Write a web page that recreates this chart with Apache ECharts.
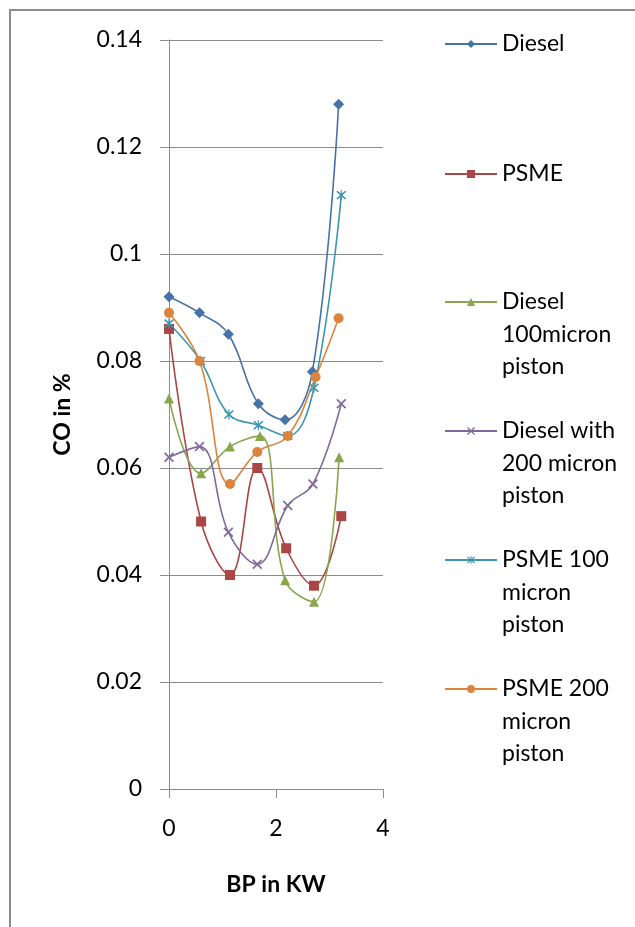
<!DOCTYPE html>
<html>
<head>
<meta charset="utf-8">
<script src="https://cdn.jsdelivr.net/npm/echarts@6/dist/echarts.min.js"></script>
<style>
html,body{margin:0;padding:0;background:#fff;}
#chart{width:635px;height:927px;}
</style>
</head>
<body>
<div id="chart"></div>
<script>
// ---- data ----
var seriesNames = ['Diesel', 'PSME', 'Diesel 100micron piston', 'Diesel with 200 micron piston', 'PSME 100 micron piston', 'PSME 200 micron piston'];
var legendLabels = ['Diesel', 'PSME', 'Diesel\n100micron\npiston', 'Diesel with\n200 micron\npiston', 'PSME 100\nmicron\npiston', 'PSME 200\nmicron\npiston'];

var dieselBP = [0, 0.57, 1.11, 1.67, 2.17, 2.68, 3.17];
var dieselCO = [0.092, 0.089, 0.085, 0.072, 0.069, 0.078, 0.128];

var psmeBP = [0, 0.60, 1.14, 1.65, 2.19, 2.71, 3.22];
var psmeCO = [0.086, 0.050, 0.040, 0.060, 0.045, 0.038, 0.051];

var diesel100BP = [0, 0.60, 1.14, 1.70, 2.17, 2.71, 3.18];
var diesel100CO = [0.073, 0.059, 0.064, 0.066, 0.039, 0.035, 0.062];

var diesel200BP = [0, 0.57, 1.11, 1.65, 2.22, 2.69, 3.22];
var diesel200CO = [0.062, 0.064, 0.048, 0.042, 0.053, 0.057, 0.072];

var psme100BP = [0, 0.59, 1.12, 1.67, 2.22, 2.71, 3.22];
var psme100CO = [0.087, 0.080, 0.070, 0.068, 0.066, 0.075, 0.111];

var psme200BP = [0, 0.57, 1.14, 1.65, 2.22, 2.74, 3.17];
var psme200CO = [0.089, 0.080, 0.057, 0.063, 0.066, 0.077, 0.088];

var xTicks = {min: 0, max: 4, interval: 2};
var yTicks = {min: 0, max: 0.14, interval: 0.02};

// ---- styling ----
var colors = ['#4572A7', '#AA4643', '#89A54E', '#80699B', '#3D96AE', '#DB843D'];
var xPath = 'path://M0,1.2 L1.2,0 L5,3.8 L8.8,0 L10,1.2 L6.2,5 L10,8.8 L8.8,10 L5,6.2 L1.2,10 L0,8.8 L3.8,5 Z';
var starPath = 'path://M0,1.2 L1.2,0 L5,3.8 L8.8,0 L10,1.2 L6.2,5 L10,8.8 L8.8,10 L5,6.2 L1.2,10 L0,8.8 L3.8,5 Z M4.4,-0.6 L5.6,-0.6 L5.6,10.6 L4.4,10.6 Z';
var symbols = ['diamond', 'rect', 'triangle', xPath, starPath, 'circle'];
var symbolSizes = [11, 10, 10, 10, 10, 10];
var FONT = 'Lato';
var LH = 32.5;

function zip(a, b) { return a.map(function (v, i) { return [v, b[i]]; }); }
var allData = [
  zip(dieselBP, dieselCO), zip(psmeBP, psmeCO), zip(diesel100BP, diesel100CO),
  zip(diesel200BP, diesel200CO), zip(psme100BP, psme100CO), zip(psme200BP, psme200CO)
];

// icon centre (px) of each legend entry, aligned with the first text line
var legendCentres = [44, 174, 302, 431, 560, 689];
var legends = seriesNames.map(function (name, i) {
  var lines = legendLabels[i].split('\n');
  // pad with blank lines above so the first text line sits at the icon
  var text = lines.length > 1 ? new Array(lines.length).join('\n') + legendLabels[i] : legendLabels[i];
  var totalLines = lines.length > 1 ? 2 * lines.length - 1 : 1;
  return {
    orient: 'vertical', left: 444, top: legendCentres[i] - totalLines * LH / 2, padding: 0,
    itemWidth: 52, itemHeight: 10,
    data: [name],
    selectedMode: false,
    formatter: function () { return text; },
    textStyle: {fontFamily: FONT, fontSize: 23, color: '#000', lineHeight: LH}
  };
});

var series = seriesNames.map(function (name, i) {
  return {
    name: name, type: 'line', data: allData[i], smooth: 0.4,
    symbol: symbols[i], symbolSize: symbolSizes[i], showSymbol: true,
    itemStyle: {color: colors[i]},
    lineStyle: {color: colors[i], width: 1.6},
    emphasis: {disabled: true}, animation: false
  };
});

var chart = echarts.init(document.getElementById('chart'), null, {renderer: 'canvas'});
chart.setOption({
  animation: false,
  backgroundColor: '#fff',
  graphic: [{
    type: 'rect', shape: {x: 10, y: 10, width: 800, height: 1000},
    style: {fill: 'none', stroke: '#8c8c8c', lineWidth: 2}, silent: true, z: -1
  }],
  legend: legends,
  grid: {left: 169, right: 252, top: 40, bottom: 138, containLabel: false},
  xAxis: {
    type: 'value', min: xTicks.min, max: xTicks.max, interval: xTicks.interval,
    name: 'BP in KW', nameLocation: 'middle', nameGap: 84,
    nameTextStyle: {fontFamily: FONT, fontSize: 23, fontWeight: 'bold', color: '#000'},
    axisLine: {show: true, onZero: false, lineStyle: {color: '#8c8c8c', width: 1}},
    axisTick: {show: true, length: 9, lineStyle: {color: '#8c8c8c'}},
    axisLabel: {fontFamily: FONT, fontSize: 23, color: '#000', margin: 28},
    splitLine: {show: false}
  },
  yAxis: {
    type: 'value', min: yTicks.min, max: yTicks.max, interval: yTicks.interval,
    name: 'CO in %', nameLocation: 'middle', nameGap: 95, nameRotate: 90,
    nameTextStyle: {fontFamily: FONT, fontSize: 23, fontWeight: 'bold', color: '#000'},
    axisLine: {show: true, lineStyle: {color: '#8c8c8c', width: 1}},
    axisTick: {show: true, length: 9, lineStyle: {color: '#8c8c8c'}},
    axisLabel: {fontFamily: FONT, fontSize: 23, color: '#000', margin: 27},
    splitLine: {show: true, lineStyle: {color: '#8c8c8c', width: 1}}
  },
  series: series
});
</script>
</body>
</html>
